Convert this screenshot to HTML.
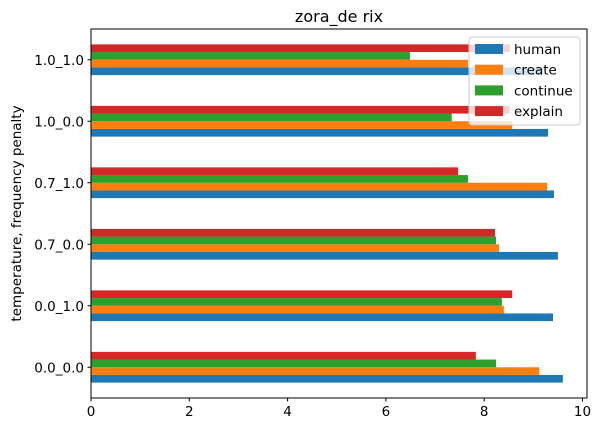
<!DOCTYPE html>
<html><head><meta charset="utf-8"><style>
body{margin:0;background:#fff}
text{font-family:"DejaVu Sans","Liberation Sans",sans-serif}
</style></head><body>
<svg id="c" width="602" height="433" xmlns="http://www.w3.org/2000/svg"></svg>
<script>
const categories=["0.0_0.0","0.0_1.0","0.7_0.0","0.7_1.0","1.0_0.0","1.0_1.0"];
const seriesNames=["human","create","continue","explain"];
const human=[9.6,9.4,9.5,9.42,9.3,9.2];
const create=[9.12,8.4,8.3,9.28,8.57,7.67];
const cont=[8.24,8.36,8.24,7.67,7.34,6.49];
const explain=[7.83,8.57,8.22,7.47,8.52,8.52];
const xTicks=[0,2,4,6,8,10];
const colors=["#1f77b4","#ff7f0e","#2ca02c","#d62728"];
const series=[human,create,cont,explain];
const L=91,R=587,T=29,B=398;
const NS="http://www.w3.org/2000/svg";
const svg=document.getElementById('c');
function x(v){return L+v*49.15;}
const step=(B-T)/categories.length;
function yc(i){return B-step*(i+0.5);}
function mk(t,a,p){const e=document.createElementNS(NS,t);for(const k in a)e.setAttribute(k,a[k]);(p||svg).appendChild(e);return e;}
const bh=step*0.5/4;
categories.forEach((c,i)=>{
  series.forEach((s,j)=>{
    const y=yc(i)+step*0.25-bh*(j+1);
    const r=mk('rect',{x:x(0),y:y,width:x(s[i])-x(0),height:bh,fill:colors[j]});
    
    
  });
  mk('line',{x1:L-3.5,x2:L,y1:yc(i),y2:yc(i),stroke:'#000'});
  const t=mk('text',{x:L-7,y:yc(i)+5,'text-anchor':'end','font-size':13.5});
  t.textContent=c;
  
  
});
xTicks.forEach(v=>{
  mk('line',{x1:x(v),x2:x(v),y1:B,y2:B+3.5,stroke:'#000'});
  const t=mk('text',{x:x(v),y:B+18,'text-anchor':'middle','font-size':13.5});
  t.textContent=v;
  
  
});
const ax=mk('rect',{x:L,y:T,width:R-L,height:B-T,fill:'none',stroke:'#000','stroke-width':1});


const ti=mk('text',{x:(L+R)/2,y:T-7,'text-anchor':'middle','font-size':16});
ti.textContent='zora_de rix';


const yt=mk('text',{x:0,y:0,'text-anchor':'middle','font-size':13.5,transform:`translate(21,${(T+B)/2}) rotate(-90)`});
yt.textContent='temperature, frequency penalty';


const lg=mk('g',{});


mk('rect',{x:469,y:37,width:111,height:88,rx:3,fill:'rgba(255,255,255,0.8)',stroke:'#ccc'},lg);
seriesNames.forEach((n,j)=>{
  const y=48+j*20.7;
  mk('rect',{x:475,y:y-4,width:28,height:10,fill:colors[j]},lg);
  const t=mk('text',{x:514,y:y+6,'font-size':13.5},lg);
  t.textContent=n;
  
  
});
</script>
</body></html>
